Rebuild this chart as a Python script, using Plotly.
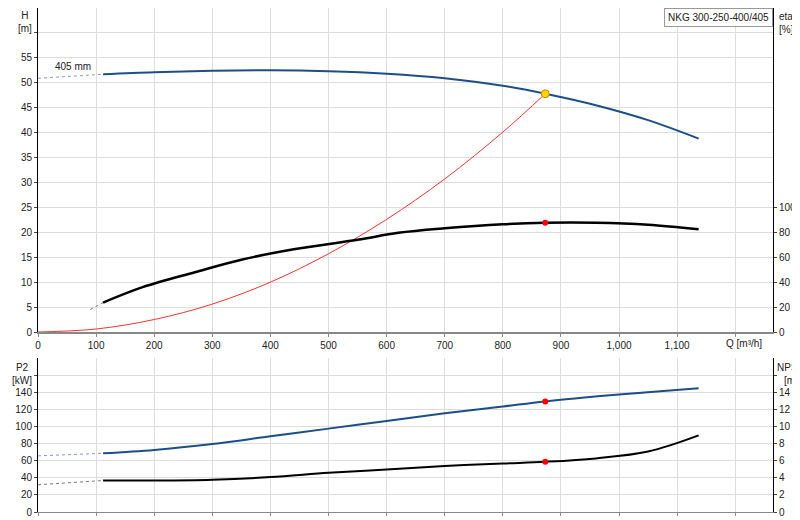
import plotly.graph_objects as go

q_h = [112, 200, 300, 400, 500, 600, 700, 800, 873, 960, 1050, 1137]
h = [51.7, 52.1, 52.4, 52.5, 52.3, 51.8, 50.9, 49.4, 47.8, 45.5, 42.5, 38.8]
q_h_ext = [0, 112]
h_ext = [50.9, 51.7]
q_eta = [112, 180, 270, 350, 440, 550, 620, 700, 800, 873, 960, 1050, 1137]
eta = [23.6, 36, 48, 58, 66.4, 74, 79.6, 83.2, 86.4, 87.6, 87.6, 86, 82.4]
q_eta_ext = [90, 112]
eta_ext = [18, 23.6]
q_sys = [0, 100, 200, 300, 400, 500, 600, 700, 800, 873]
h_sys = [0, 0.6, 2.5, 5.6, 10, 15.7, 22.6, 30.7, 40.1, 47.8]
q_p = [112, 200, 300, 400, 500, 600, 700, 800, 873, 1000, 1137]
p2 = [69, 73, 80, 89, 98, 107, 116, 124, 130, 138, 145.5]
q_p_ext = [0, 112]
p2_ext = [66, 69]
q_n = [112, 200, 300, 400, 500, 600, 700, 800, 873, 960, 1050, 1137]
npsh = [3.7, 3.7, 3.8, 4.1, 4.6, 5.0, 5.4, 5.7, 5.9, 6.3, 7.1, 9.0]
q_n_ext = [0, 112]
npsh_ext = [3.2, 3.7]
duty_q = 873
duty_h, duty_eta, duty_p2, duty_npsh = 47.8, 87.6, 130, 5.9
x_ticks = [0, 100, 200, 300, 400, 500, 600, 700, 800, 900, 1000, 1100]
x_labels = ["0", "100", "200", "300", "400", "500", "600", "700", "800", "900", "1,000", "1,100"]

BLUE = "#1a4f8b"
H_PX = 520
mt, mb = 0, 16
ph = H_PX - mt - mb
def dom(top, bot):
    lo = max(0.0, (H_PX - mb - bot) / ph)
    hi = min(1.0, (H_PX - mb - top) / ph)
    return [lo, hi]

fig = go.Figure()
ln = lambda c, w, d="solid": dict(color=c, width=w, dash=d)
fig.add_trace(go.Scatter(x=q_h_ext, y=h_ext, mode="lines", line=ln("#8899bb", 1, "dot"), xaxis="x", yaxis="y"))
fig.add_trace(go.Scatter(x=q_h, y=h, mode="lines", line=ln(BLUE, 2), line_shape="spline", xaxis="x", yaxis="y"))
fig.add_trace(go.Scatter(x=q_sys, y=h_sys, mode="lines", line=ln("#ff3030", 1), line_shape="spline", xaxis="x", yaxis="y"))
fig.add_trace(go.Scatter(x=q_eta_ext, y=eta_ext, mode="lines", line=ln("#777777", 1, "dot"), xaxis="x", yaxis="y2"))
fig.add_trace(go.Scatter(x=q_eta, y=eta, mode="lines", line=ln("black", 2.5), line_shape="spline", xaxis="x", yaxis="y2"))
fig.add_trace(go.Scatter(x=[duty_q], y=[duty_eta], mode="markers", marker=dict(color="red", size=6), xaxis="x", yaxis="y2"))
fig.add_trace(go.Scatter(x=[duty_q], y=[duty_h], mode="markers", marker=dict(color="#ffd700", size=8, line=dict(color="#e08000", width=1)), xaxis="x", yaxis="y"))
fig.add_trace(go.Scatter(x=q_p_ext, y=p2_ext, mode="lines", line=ln("#8899bb", 1, "dot"), xaxis="x2", yaxis="y3"))
fig.add_trace(go.Scatter(x=q_p, y=p2, mode="lines", line=ln(BLUE, 2), line_shape="spline", xaxis="x2", yaxis="y3"))
fig.add_trace(go.Scatter(x=[duty_q], y=[duty_p2], mode="markers", marker=dict(color="red", size=6), xaxis="x2", yaxis="y3"))
fig.add_trace(go.Scatter(x=q_n_ext, y=npsh_ext, mode="lines", line=ln("#777777", 1, "dot"), xaxis="x2", yaxis="y4"))
fig.add_trace(go.Scatter(x=q_n, y=npsh, mode="lines", line=ln("black", 2), line_shape="spline", xaxis="x2", yaxis="y4"))
fig.add_trace(go.Scatter(x=[duty_q], y=[duty_npsh], mode="markers", marker=dict(color="red", size=6), xaxis="x2", yaxis="y4"))

grid = "#dddddd"
xcommon = dict(range=[0, 1265], tickvals=x_ticks + [1200], showgrid=True, gridcolor=grid,
               ticks="outside", ticklen=3, tickcolor="#888", zeroline=False, tickfont=dict(size=10))
fig.update_layout(
    width=800, height=H_PX, showlegend=False, plot_bgcolor="white", paper_bgcolor="white",
    font=dict(family="Liberation Sans, Arial", size=10, color="#222"),
    margin=dict(l=30, r=35, t=mt, b=mb),
    xaxis=dict(**xcommon, domain=[0, 1], anchor="y", ticktext=x_labels + [""],
               showline=True, linecolor="#888", linewidth=2),
    xaxis2=dict(**xcommon, domain=[0, 1], anchor="y3", showticklabels=False,
                showline=True, linecolor="#888", linewidth=1),
    yaxis=dict(domain=dom(0, 324), range=[0, 65], tickvals=[0, 5, 10, 15, 20, 25, 30, 35, 40, 45, 50, 55, 60],
               ticktext=[str(v) for v in range(0, 60, 5)] + [""], showgrid=True, gridcolor=grid,
               ticks="outside", ticklen=3, zeroline=False, showline=True, linecolor="black", linewidth=1),
    yaxis2=dict(overlaying="y", side="right", anchor="x", range=[0, 260], tickvals=[0, 20, 40, 60, 80, 100],
                showgrid=False, ticks="outside", ticklen=3, zeroline=False,
                showline=True, linecolor="black", linewidth=1),
    yaxis3=dict(domain=dom(350, 504), range=[0, 181], tickvals=[0, 20, 40, 60, 80, 100, 120, 140, 160],
                ticktext=["0", "20", "40", "60", "80", "100", "120", "140", ""], showgrid=True, gridcolor=grid,
                ticks="outside", ticklen=3, zeroline=False, showline=True, linecolor="black", linewidth=1),
    yaxis4=dict(overlaying="y3", side="right", anchor="x2", range=[0, 18.1], tickvals=[0, 2, 4, 6, 8, 10, 12, 14, 16],
                ticktext=["0", "2", "4", "6", "8", "10", "12", "14", ""], showgrid=False,
                ticks="outside", ticklen=3, zeroline=False, showline=True, linecolor="black", linewidth=1),
)
ann = [
    dict(x=0, y=1, xref="paper", yref="paper", text="H<br>[m]", xanchor="right", yanchor="top", xshift=-4, align="center"),
    dict(x=1, y=1, xref="paper", yref="paper", text="eta<br>[%]", xanchor="left", yanchor="top", xshift=4, yshift=-1, align="left"),
    dict(x=1180, y=0, xref="x", yref="y", text="Q [m³/h]", xanchor="left", yanchor="top", yshift=-4, showarrow=False),
    dict(x=60, y=53.2, xref="x", yref="y", text="405 mm", showarrow=False),
    dict(x=1, y=1, xref="paper", yref="paper", text="NKG 300-250-400/405", xanchor="right", yanchor="top",
         bordercolor="#999", borderwidth=1, bgcolor="white", borderpad=3),
    dict(x=0, y=dom(350, 504)[1], xref="paper", yref="paper", text="P2<br>[kW]", xanchor="right", yanchor="top", xshift=-4, yshift=-2),
    dict(x=1, y=dom(350, 504)[1], xref="paper", yref="paper", text="NPSH<br>[m]", xanchor="left", yanchor="top", xshift=2, yshift=-2),
]
for a in ann:
    a.setdefault("showarrow", False)
fig.update_layout(annotations=ann)
fig.write_html("out.html")
